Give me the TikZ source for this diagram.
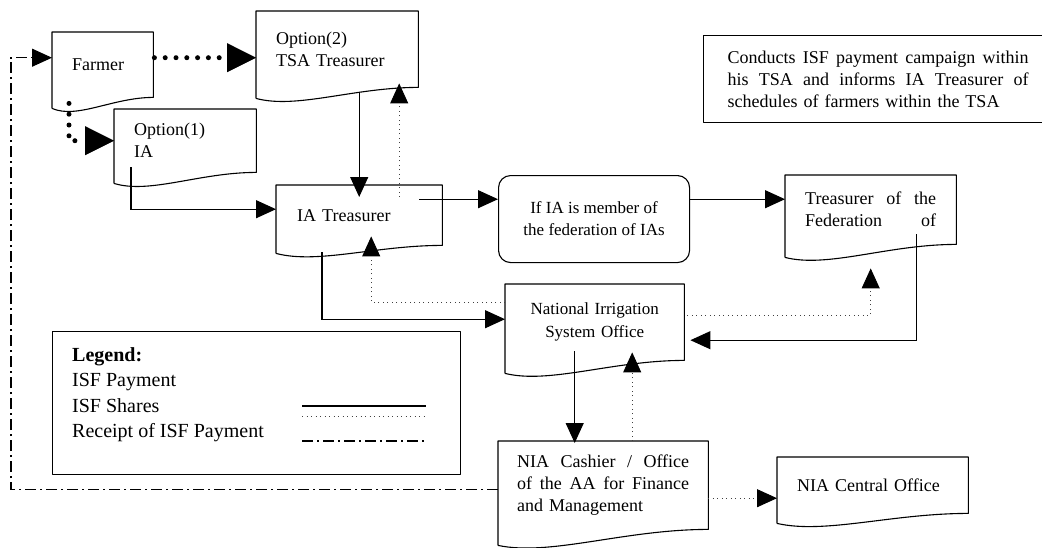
\documentclass[tikz,border=0pt]{standalone}
\usepackage{fontspec}
\setmainfont{Liberation Serif}
\usetikzlibrary{arrows.meta,calc}

\newcommand{\spread}{\hskip 0pt plus 1fill\relax}
% outline of a document box, #1 = how far the left corner hangs below
\newcommand{\docoutline}[2][11]{%
  \draw[boxline] ($(#2.south west)+(0,#1)$) -- (#2.north west) -- (#2.north east) -- (#2.south east)
    .. controls ($(#2.south east)!0.4!(#2.south west)$) and ($(#2.south east)!0.75!(#2.south west)+(0,#1+11)$) .. ($(#2.south west)+(0,#1)$);}

\tikzset{
  boxline/.style={line width=1.1pt, line join=round},
  docbox/.style={anchor=north west, inner xsep=20pt, inner ysep=0pt, align=left, font=\fontsize{18}{22}\selectfont},
  checkbox/.style={draw, boxline, rounded corners=12pt, anchor=north west, align=center, font=\fontsize{17}{22}\selectfont},
  tip/.style={-{Triangle[length=20pt,width=18pt,color=black]}},
  pay/.style={line width=1.1pt},
  share/.style={line width=0.9pt, black!75, dash pattern=on 0.9pt off 3.6pt},
  receipt/.style={line width=1.1pt, dash pattern=on 11pt off 4pt on 2pt off 4pt},
  option/.style={line width=5pt, line cap=round, dash pattern=on 0pt off 10.8pt, -{Triangle[length=29pt,width=29pt,line width=0.1pt]}}
}

\begin{document}
\begin{tikzpicture}[x=1pt,y=-1pt]
    \useasboundingbox (0,0) rectangle (1042,547);

    % boxes
    \node[docbox, text width=61pt, minimum height=65pt] (farmer) at (52,32) {Farmer};
    \node[docbox, text width=122pt, minimum height=76pt] (tsa) at (256,11) {Option(2)\\TSA Treasurer};
    \node[docbox, text width=102pt, minimum height=63pt] (opt1) at (114,109) {Option(1)\\IA};
    \node[docbox, inner xsep=21pt, text width=124pt, minimum height=60pt] (iatr) at (276,185) {IA Treasurer};
    \node[checkbox, minimum width=191pt, minimum height=87pt] (fedcheck) at (498,175) {If IA is member of\\the federation of IAs};
    \node[docbox, text width=131pt, minimum height=69pt] (fedtr) at (785,175) {Treasurer\spread of\spread the\\Federation\spread of};
    \node[docbox, align=center, text width=139pt, minimum height=76pt, font=\fontsize{17}{23}\selectfont] (niso) at (505,284) {National Irrigation\\System Office};
    \node[docbox, inner xsep=19pt, text width=172pt, minimum height=88pt] (cashier) at (498,441) {NIA\spread Cashier\spread /\spread Office\\of\spread the\spread AA\spread for\spread Finance\\and Management};
    \node[docbox, text width=151pt, minimum height=56pt] (central) at (777,457) {NIA Central Office};
    \node[docbox, draw, boxline, inner xsep=24pt, text width=301pt, minimum height=87pt] (note) at (703,35) {Conducts\spread ISF\spread payment\spread campaign\spread within\\his\spread TSA\spread and\spread informs\spread IA\spread Treasurer\spread of\\schedules of farmers within the TSA};

    \docoutline{farmer}
    \docoutline{tsa}
    \docoutline{opt1}
    \docoutline[8]{iatr}
    \docoutline[13]{fedtr}
    \docoutline[13]{niso}
    \docoutline[16]{cashier}
    \docoutline[10]{central}

    % legend
    \node[draw, boxline, anchor=north west, minimum width=408pt, minimum height=143pt] (legend) at (52,331) {};
    \node[anchor=north west, inner sep=0pt, align=left, font=\fontsize{20}{25.5}\selectfont] (legendtext) at (72,347) {\textbf{Legend:}\\ISF Payment\\ISF Shares\\Receipt of ISF Payment};
    \draw[pay] (302,406) -- (426,406);
    \draw[share] (302,416) -- (426,416);
    \draw[receipt] (302,441) -- (426,441);

    % options of the farmer
    \coordinate (f1) at ($(farmer.east)+(1,-7)$);
    \draw[option] (f1) -- (f1 -| tsa.west);
    \draw[option] ($(farmer.south west)+(17,6)$) |- (opt1.west);

    % payments
    \coordinate (o1) at ($(opt1.south west)+(17,-5)$);
    \draw[pay, tip] (o1) |- ($(iatr.west)+(0,-6)$);
    \draw[pay, tip] ($(tsa.south -| iatr.north)+(0,5)$) -- ($(iatr.north)+(0,12)$);
    \coordinate (i1) at ($(iatr.east)+(-23,-16)$);
    \draw[pay, tip] (i1) -- (i1 -| fedcheck.west);
    \draw[pay, tip] (i1 -| fedcheck.east) -- (i1 -| fedtr.west);
    \draw[pay, tip] ($(iatr.south west)+(46,7)$) |- ($(niso.west)+(0,-3)$);
    \draw[pay, tip] ($(fedtr.south east)+(-40,-10)$) |- ($(niso.east)+(6,18)$);
    \coordinate (n1) at ($(niso.south)+(-20,-9)$);
    \draw[pay, tip] (n1) -- ($(n1 |- cashier.north)+(0,2)$);

    % shares
    \coordinate (s1) at ($(iatr.north)+(40,12)$);
    \draw[share, tip] (s1) -- ($(s1 |- tsa.south)+(0,-4)$);
    \draw[share, tip] ($(niso.west)+(0,-20)$) -| ($(iatr.south)+(12,-9)$);
    \draw[share, tip] ($(niso.east)+(3,-7)$) -| ($(fedtr.south)+(0,24)$);
    \coordinate (c1) at ($(cashier.north)+(29,0)$);
    \draw[share, tip] (c1) -- ($(c1 |- niso.south)+(0,-8)$);
    \draw[share, tip] ($(cashier.east)+(0,13)$) -- ($(central.west)+(0,13)$);

    % receipt back to the farmer
    \draw[receipt, tip] ($(cashier.west)+(0,4)$) -- ++(-487,0) |- ($(farmer.west)+(0,-7)$);
\end{tikzpicture}
\end{document}
